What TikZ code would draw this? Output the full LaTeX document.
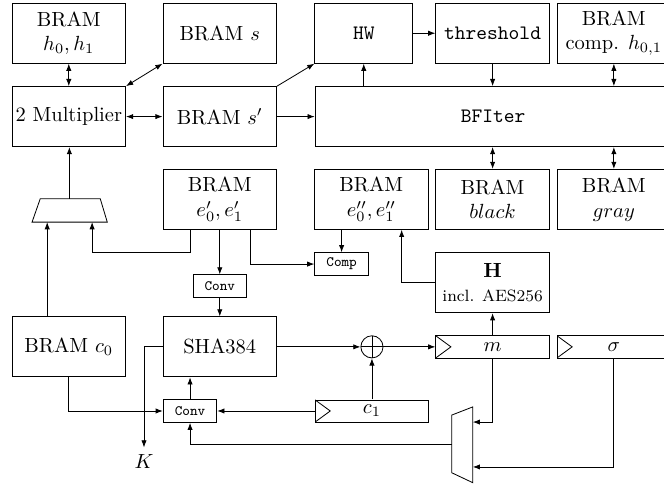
\documentclass[tikz,border=0pt]{standalone}
\usepackage{amsmath, amssymb}
\usepackage{tikz}
\usetikzlibrary{arrows.meta}
\tikzset{
    block/.style={rectangle, draw=black, align=center, minimum width=1.95cm, minimum height=1.03cm, inner sep=1pt},
    smallbox/.style={rectangle, draw=black, align=center, minimum width=0.92cm, minimum height=0.39cm, inner sep=0pt, font=\scriptsize\ttfamily},
    reg/.style={rectangle, draw=black, minimum width=1.95cm, minimum height=0.38cm, inner sep=0pt,
        path picture={\draw (path picture bounding box.north west) -- ([xshift=0.26cm]path picture bounding box.west) -- (path picture bounding box.south west);}},
    arrow/.style={-{Latex[length=3.5pt, width=2.6pt]}},
    darrow/.style={{Latex[length=3.5pt, width=2.6pt]}-{Latex[length=3.5pt, width=2.6pt]}}
}

\begin{document}
\begin{tikzpicture}[
    xorop/.style={circle, draw=black, minimum size=0.38cm, inner sep=0pt,
        path picture={\draw (path picture bounding box.north) -- (path picture bounding box.south) (path picture bounding box.west) -- (path picture bounding box.east);}}
]
    \useasboundingbox (0,0) rectangle (11.39,-8.32);
    \clip (0,0) rectangle (11.39,-8.32);

    \node[block] (hbram) at (1.18,-0.57) {BRAM\\$h_0, h_1$};
    \node[block] (sbram) at (3.77,-0.57) {BRAM $s$};
    \node[block, minimum width=1.68cm] (hw) at (6.24,-0.57) {\texttt{HW}};
    \node[block] (thr) at (8.45,-0.57) {\texttt{threshold}};
    \node[block] (hcomp) at (10.53,-0.57) {BRAM\\comp. $h_{0,1}$};

    \node[block] (mult) at (1.18,-2.0) {2 Multiplier};
    \node[block] (spbram) at (3.77,-2.0) {BRAM $s'$};
    \node[block, minimum width=6.11cm] (bfiter) at (8.46,-2.0) {\texttt{BFIter}};

    \node[block] (ebram) at (3.77,-3.42) {BRAM\\$e'_0, e'_1$};
    \node[block] (eebram) at (6.37,-3.42) {BRAM\\$e''_0, e''_1$};
    \node[block] (black) at (8.45,-3.42) {BRAM\\$black$};
    \node[block] (gray) at (10.53,-3.42) {BRAM\\$gray$};

    % multiplexer above the multiplier
    \draw (0.55,-3.81) -- (0.69,-3.41) -- (1.72,-3.41) -- (1.84,-3.81) -- cycle;
    \coordinate (mux1out) at (1.19,-3.41);
    \coordinate (mux1inl) at (0.81,-3.81);
    \coordinate (mux1inr) at (1.58,-3.81);

    \node[smallbox] (conv1) at (3.77,-4.91) {Conv};
    \node[smallbox] (cmp) at (5.86,-4.53) {Comp};
    \node[block] (hfun) at (8.45,-4.85) {$\mathbf{H}$\\{\footnotesize incl. AES256}};

    \node[block] (c0bram) at (1.18,-5.95) {BRAM $c_0$};
    \node[block] (sha) at (3.77,-5.95) {SHA384};
    \node[xorop] (xor) at (6.38,-5.95) {};
    \node[reg] (mreg) at (8.45,-5.95) {$m$};
    \node[reg] (sreg) at (10.53,-5.95) {$\sigma$};

    \node[reg] (c1reg) at (6.38,-7.05) {$c_1$};
    \node[smallbox] (conv2) at (3.26,-7.05) {Conv};
    \node (k) at (2.47,-7.92) {$K$};

    % multiplexer below the registers
    \draw (7.75,-7.12) -- (8.11,-6.98) -- (8.11,-8.28) -- (7.75,-8.11) -- cycle;
    \coordinate (mux2out) at (7.75,-7.62);
    \coordinate (mux2ina) at (8.11,-7.24);
    \coordinate (mux2inb) at (8.11,-8.01);

    \draw[darrow] (hbram) -- (mult);
    \draw[darrow] (mult.north east) -- (sbram.south west);
    \draw[darrow] (mult) -- (spbram);
    \draw[arrow] (spbram.north east) -- (hw.south west);
    \draw[arrow] (spbram) -- (bfiter);
    \draw[arrow] (hw) -- (thr);
    \draw[arrow] (hw |- bfiter.north) -- (hw);
    \draw[arrow] (thr) -- (thr |- bfiter.north);
    \draw[darrow] (hcomp) -- (hcomp |- bfiter.north);
    \draw[darrow] (black |- bfiter.south) -- (black);
    \draw[darrow] (gray |- bfiter.south) -- (gray);

    \draw[arrow] (mux1out) -- (mux1out |- mult.south);
    \draw[arrow] (mux1inl |- c0bram.north) -- (mux1inl);
    \draw[arrow] ([xshift=-0.51cm]ebram.south) -- ++(0,-0.39) -| (mux1inr);
    \draw[arrow] (ebram) -- (conv1);
    \draw[arrow] ([xshift=0.53cm]ebram.south) |- (cmp.west);
    \draw[arrow] (conv1) -- (sha);
    \draw[arrow] (cmp.north |- eebram.south) -- (cmp.north);
    \draw[arrow] (hfun.west) -| ([xshift=0.52cm]eebram.south);
    \draw[arrow] (mreg) -- (hfun);

    \draw[arrow] (sha) -- (xor);
    \draw[arrow] (xor) -- (mreg);
    \draw[arrow] (c1reg) -- (xor);
    \draw[arrow] (sha.west) -| (k);
    \draw[arrow] (c0bram.south) |- (conv2.west);
    \draw[arrow] (c1reg) -- (conv2);
    \draw[arrow] (conv2.north) -- (conv2.north |- sha.south);
    \draw[arrow] (mux2out) -| (conv2.south);
    \draw[arrow] (mreg.south) |- (mux2ina);
    \draw[arrow] (sreg.south) |- (mux2inb);
\end{tikzpicture}
\end{document}
